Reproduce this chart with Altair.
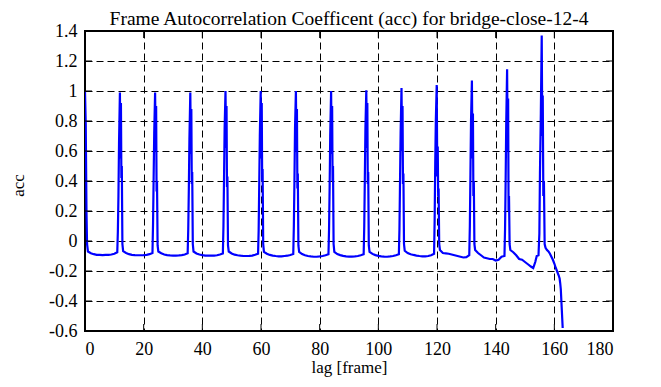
import altair as alt
import pandas as pd

# lag [frame] and autocorrelation coefficient
lag = [
    0, 0.25, 0.5, 0.7, 1, 2, 3, 4, 5, 6, 7, 8, 9, 10,
    11, 11.2, 11.4, 11.6, 11.9, 12.1, 12.25, 12.4, 12.55, 12.75, 13,
    14, 15, 16, 17, 18, 19, 20, 21, 22,
    23, 23.2, 23.4, 23.6, 23.9, 24.1, 24.25, 24.4, 24.55, 24.75, 25,
    26, 27, 28, 29, 30, 31, 32, 33, 34,
    35, 35.2, 35.4, 35.6, 35.9, 36.1, 36.25, 36.4, 36.55, 36.75, 37,
    38, 39, 40, 41, 42, 43, 44, 45, 46,
    47, 47.2, 47.4, 47.6, 47.9, 48.1, 48.25, 48.4, 48.55, 48.75, 49,
    50, 51, 52, 53, 54, 55, 56, 57, 58,
    59, 59.2, 59.4, 59.6, 59.9, 60.1, 60.25, 60.4, 60.55, 60.75, 61,
    62, 63, 64, 65, 66, 67, 68, 69, 70,
    71, 71.2, 71.4, 71.6, 71.9, 72.1, 72.25, 72.4, 72.55, 72.75, 73,
    74, 75, 76, 77, 78, 79, 80, 81, 82,
    83, 83.2, 83.4, 83.6, 83.9, 84.1, 84.25, 84.4, 84.55, 84.75, 85,
    86, 87, 88, 89, 90, 91, 92, 93, 94,
    95, 95.2, 95.4, 95.6, 95.9, 96.1, 96.25, 96.4, 96.55, 96.75, 97,
    98, 99, 100, 101, 102, 103, 104, 105, 106,
    107, 107.2, 107.4, 107.6, 107.9, 108.1, 108.25, 108.4, 108.55, 108.75, 109,
    110, 111, 112, 113, 114, 115, 116, 117, 118,
    119, 119.2, 119.4, 119.6, 119.9, 120.1, 120.25, 120.4, 120.55, 120.75, 121,
    122, 123, 124, 125, 126, 127, 128, 129, 130,
    131, 131.2, 131.4, 131.6, 131.9, 132.1, 132.25, 132.4, 132.55, 132.75, 133,
    134, 135, 136, 137, 138, 139, 140, 141, 142,
    143, 143.2, 143.4, 143.6, 143.9, 144.1, 144.25, 144.4, 144.55, 144.75, 145,
    146, 147, 148, 149, 150, 151, 152, 152.8, 153.5, 154,
    154.6, 154.9, 155.1, 155.4, 155.7, 155.9, 156.05, 156.25, 156.45, 156.7, 157,
    157.5, 158, 158.5, 159, 159.5, 160, 160.5, 161, 161.5, 161.8, 162, 162.2, 162.5, 162.85,
]
acc = [
    0.995, 0.78, 0.2, -0.02, -0.07, -0.082, -0.088, -0.092, -0.093, -0.094, -0.093, -0.092, -0.09, -0.085,
    -0.075, 0.06, 0.3, 0.65, 0.99, 0.55, 0.92, 0.42, 0.5, -0.02, -0.068,
    -0.08, -0.088, -0.092, -0.094, -0.095, -0.095, -0.094, -0.092, -0.088,
    -0.08, 0.12, 0.42, 0.72, 0.99, 0.6, 0.9, 0.33, 0.4, -0.03, -0.07,
    -0.082, -0.09, -0.094, -0.096, -0.097, -0.097, -0.096, -0.094, -0.09,
    -0.082, 0.08, 0.35, 0.68, 0.99, 0.58, 0.88, 0.38, 0.46, -0.02, -0.07,
    -0.083, -0.09, -0.094, -0.097, -0.098, -0.098, -0.097, -0.095, -0.09,
    -0.083, 0.1, 0.42, 0.75, 1.0, 0.62, 0.9, 0.36, 0.43, -0.03, -0.07,
    -0.083, -0.091, -0.095, -0.098, -0.1, -0.1, -0.099, -0.097, -0.092,
    -0.085, 0.07, 0.38, 0.7, 1.0, 0.55, 0.92, 0.4, 0.48, -0.02, -0.072,
    -0.085, -0.093, -0.097, -0.1, -0.102, -0.102, -0.1, -0.098, -0.093,
    -0.087, 0.1, 0.4, 0.75, 1.0, 0.6, 0.88, 0.35, 0.45, -0.03, -0.072,
    -0.087, -0.095, -0.1, -0.103, -0.105, -0.105, -0.103, -0.1, -0.095,
    -0.088, 0.08, 0.36, 0.7, 1.0, 0.58, 0.9, 0.4, 0.5, -0.02, -0.073,
    -0.087, -0.094, -0.099, -0.102, -0.104, -0.104, -0.103, -0.1, -0.095,
    -0.088, 0.1, 0.42, 0.75, 1.005, 0.62, 0.92, 0.38, 0.46, -0.03, -0.072,
    -0.086, -0.094, -0.099, -0.102, -0.104, -0.105, -0.103, -0.1, -0.095,
    -0.088, 0.08, 0.4, 0.72, 1.02, 0.6, 0.9, 0.38, 0.45, -0.02, -0.065,
    -0.08, -0.088, -0.093, -0.097, -0.1, -0.102, -0.103, -0.1, -0.095,
    -0.085, 0.14, 0.52, 0.8, 1.04, 0.43, 0.63, 0.3, 0.35, -0.02, -0.06,
    -0.08, -0.082, -0.085, -0.09, -0.095, -0.1, -0.105, -0.11, -0.108,
    -0.095, 0.1, 0.45, 0.8, 1.07, 0.55, 0.85, 0.3, 0.4, -0.02, -0.06,
    -0.08, -0.095, -0.11, -0.115, -0.12, -0.12, -0.13, -0.125, -0.105,
    -0.1, 0.08, 0.4, 0.78, 1.145, 0.6, 0.95, 0.2, 0.3, -0.02, -0.06,
    -0.075, -0.095, -0.12, -0.125, -0.14, -0.155, -0.17, -0.18, -0.14, -0.1,
    -0.095, 0.05, 0.45, 0.85, 1.37, 0.7, 0.97, 0.3, 0.4, -0.02, -0.045,
    -0.06, -0.07, -0.085, -0.105, -0.125, -0.15, -0.18, -0.205, -0.23, -0.25, -0.28, -0.32, -0.44, -0.58,
]

x_ticks = [0, 20, 40, 60, 80, 100, 120, 140, 160, 180]
y_ticks = [-0.6, -0.4, -0.2, 0, 0.2, 0.4, 0.6, 0.8, 1, 1.2, 1.4]

W, H = 528, 300
FONT = "Liberation Serif, Times New Roman, DejaVu Serif, serif"
TICK = 7

df = pd.DataFrame({"lag": lag, "acc": acc})
xt = pd.DataFrame({"lag": x_ticks})
yt = pd.DataFrame({"acc": y_ticks})

xscale = alt.Scale(domain=[0, 180], nice=False, zero=False)
yscale = alt.Scale(domain=[-0.6, 1.4], nice=False, zero=False)

line = alt.Chart(df).mark_line(color="#0000ff", strokeWidth=2.2, clip=True).encode(
    x=alt.X("lag:Q", scale=xscale, title="lag [frame]",
            axis=alt.Axis(values=x_ticks, labelExpr="datum.value + ''",
                          labelOverlap=False, labelFont=FONT, titleFont=FONT,
                          labelPadding=9, titlePadding=1)),
    y=alt.Y("acc:Q", scale=yscale, title="acc",
            axis=alt.Axis(values=y_ticks, labelExpr="datum.value + ''",
                          labelOverlap=False, labelFont=FONT, titleFont=FONT,
                          labelPadding=8,
                          titleAngle=-90, titleX=-62, titleY=154,
                          titleAlign="center", titleBaseline="alphabetic")),
    order=alt.Order("lag:Q"),
)

tick_top = alt.Chart(xt).mark_rule(color="black", strokeWidth=1).encode(
    x=alt.X("lag:Q", scale=xscale, axis=None), y=alt.value(0), y2=alt.value(TICK))
tick_bot = alt.Chart(xt).mark_rule(color="black", strokeWidth=1).encode(
    x=alt.X("lag:Q", scale=xscale, axis=None), y=alt.value(H - TICK), y2=alt.value(H))
tick_left = alt.Chart(yt).mark_rule(color="black", strokeWidth=1).encode(
    y=alt.Y("acc:Q", scale=yscale, axis=None), x=alt.value(0), x2=alt.value(TICK))
tick_right = alt.Chart(yt).mark_rule(color="black", strokeWidth=1).encode(
    y=alt.Y("acc:Q", scale=yscale, axis=None), x=alt.value(W - TICK), x2=alt.value(W))

chart = alt.layer(line, tick_top, tick_bot, tick_left, tick_right).resolve_axis(
    x="independent", y="independent"
).properties(
    width=W, height=H,
    title=alt.Title("Frame Autocorrelation Coefficent (acc) for bridge-close-12-4",
                    font=FONT, fontSize=19.5, fontWeight="normal", color="black",
                    anchor="middle", frame="group", offset=6, dy=13),
    padding={"left": 77, "top": 23, "right": 40, "bottom": 48},
    autosize=alt.AutoSizeParams(type="none"),
).configure(
    font=FONT
).configure_view(
    stroke="black", strokeWidth=2
).configure_axis(
    labelFont=FONT, labelFontSize=18, labelColor="black", labelOverlap=False,
    titleFont=FONT, titleFontSize=17, titleFontWeight="normal", titleColor="black",
    ticks=False, domain=False,
    grid=True, gridColor="black", gridOpacity=1, gridWidth=1, gridDash=[7, 4],
)

chart.save("out.html", embed_options={"renderer": "svg", "actions": False})
